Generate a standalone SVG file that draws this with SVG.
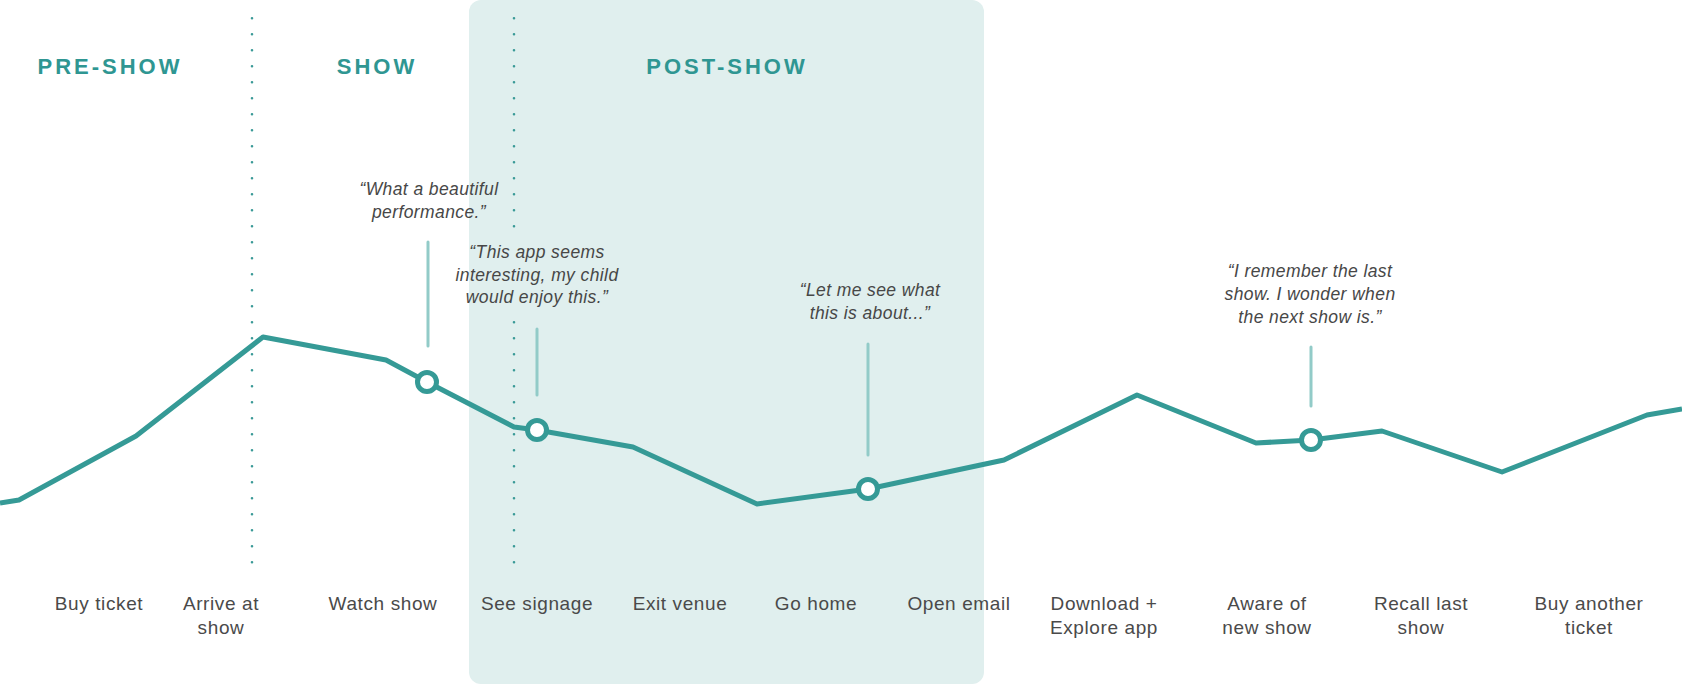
<svg xmlns="http://www.w3.org/2000/svg" width="1682" height="685" viewBox="0 0 1682 685">
  <style>
    .phase { font-family: "Liberation Sans", Arial, sans-serif; font-weight: bold; font-size: 22px; letter-spacing: 3px; fill: #2f9692; text-anchor: middle; }
    .quote { font-family: "Liberation Sans", Arial, sans-serif; font-style: italic; font-size: 17.5px; letter-spacing: 0.4px; fill: #474747; text-anchor: middle; }
    .step { font-family: "Liberation Sans", Arial, sans-serif; font-size: 19px; letter-spacing: 0.6px; fill: #4a4a4a; text-anchor: middle; }
    .divider { stroke: #3a9a97; stroke-width: 2.6; stroke-linecap: round; stroke-dasharray: 0 16; fill: none; }
    .curve { fill: none; stroke: #359a96; stroke-width: 5; stroke-linejoin: round; }
    .leader { stroke: #92cbc8; stroke-width: 3; stroke-linecap: round; }
    .dot { fill: #ffffff; stroke: #359a96; stroke-width: 5; }
  </style>

  <rect width="1682" height="685" fill="#ffffff"/>

  <!-- post-show highlight band -->
  <rect id="post-show-band" x="469" y="0" width="515" height="684" rx="12" fill="#e0efee"/>

  <!-- phase dividers -->
  <g id="dividers">
    <line class="divider" x1="252" y1="18.3" x2="252" y2="563"/>
    <line class="divider" x1="514" y1="18.3" x2="514" y2="227"/>
    <line class="divider" x1="514" y1="322.3" x2="514" y2="563"/>
  </g>

  <!-- phase headings -->
  <g id="phase-pre"><text class="phase" x="110" y="74">PRE-SHOW</text></g>
  <g id="phase-show"><text class="phase" x="377" y="74">SHOW</text></g>
  <g id="phase-post"><text class="phase" x="727" y="74">POST-SHOW</text></g>

  <!-- emotion curve and quote leaders -->
  <g id="connectors">
    <polyline class="curve" points="0,503 19,500 136,436 263,337 386,360 427,382 514,427 537,430 633,447 757,504 868,489 1004,460 1137,395 1256,443 1311,440 1382,431 1502,472 1647,415 1682,409"/>
    <line class="leader" x1="428" y1="242" x2="428" y2="346"/>
    <line class="leader" x1="537" y1="329" x2="537" y2="395"/>
    <line class="leader" x1="868" y1="344" x2="868" y2="455"/>
    <line class="leader" x1="1311" y1="347" x2="1311" y2="406"/>
  </g>

  <!-- touchpoints with quotes -->
  <g id="moment-watch">
    <circle class="dot" cx="427" cy="382" r="9.5"/>
    <text class="quote" x="429" y="195">“What a beautiful</text>
    <text class="quote" x="429" y="218">performance.”</text>
  </g>
  <g id="moment-signage">
    <circle class="dot" cx="537" cy="430" r="9.5"/>
    <text class="quote" x="537" y="258">“This app seems</text>
    <text class="quote" x="537" y="281">interesting, my child</text>
    <text class="quote" x="537" y="303">would enjoy this.”</text>
  </g>
  <g id="moment-email">
    <circle class="dot" cx="868" cy="489" r="9.5"/>
    <text class="quote" x="870" y="296">“Let me see what</text>
    <text class="quote" x="870" y="319">this is about...”</text>
  </g>
  <g id="moment-aware">
    <circle class="dot" cx="1311" cy="440" r="9.5"/>
    <text class="quote" x="1310" y="277">“I remember the last</text>
    <text class="quote" x="1310" y="300">show. I wonder when</text>
    <text class="quote" x="1310" y="323">the next show is.”</text>
  </g>

  <!-- journey steps -->
  <g id="step-buy-ticket"><text class="step" x="99" y="610">Buy ticket</text></g>
  <g id="step-arrive"><text class="step" x="221" y="610">Arrive at</text><text class="step" x="221" y="634">show</text></g>
  <g id="step-watch"><text class="step" x="383" y="610">Watch show</text></g>
  <g id="step-signage"><text class="step" x="537" y="610">See signage</text></g>
  <g id="step-exit"><text class="step" x="680" y="610">Exit venue</text></g>
  <g id="step-home"><text class="step" x="816" y="610">Go home</text></g>
  <g id="step-email"><text class="step" x="959" y="610">Open email</text></g>
  <g id="step-download"><text class="step" x="1104" y="610">Download +</text><text class="step" x="1104" y="634">Explore app</text></g>
  <g id="step-aware"><text class="step" x="1267" y="610">Aware of</text><text class="step" x="1267" y="634">new show</text></g>
  <g id="step-recall"><text class="step" x="1421" y="610">Recall last</text><text class="step" x="1421" y="634">show</text></g>
  <g id="step-buy-another"><text class="step" x="1589" y="610">Buy another</text><text class="step" x="1589" y="634">ticket</text></g>
</svg>
